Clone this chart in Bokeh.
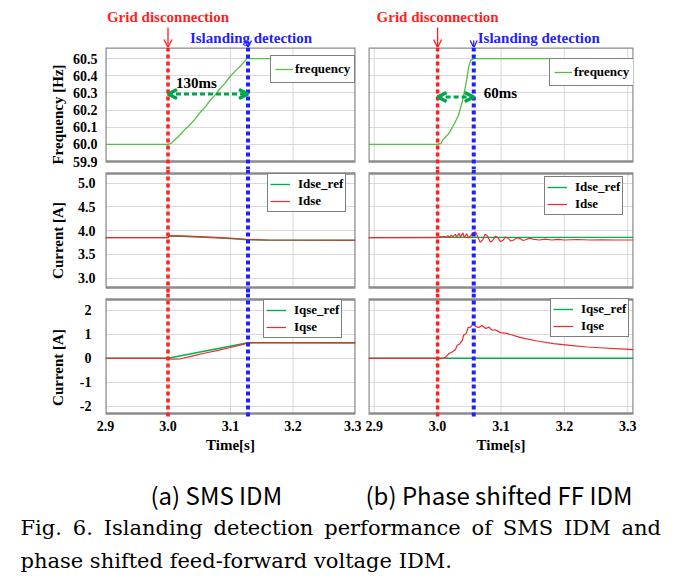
import math
from bokeh.plotting import figure
from bokeh.layouts import column, row
from bokeh.models import (Range1d, FixedTicker, Span, Arrow, OpenHead, Label, Legend,
                          LegendItem, LinearAxis, Grid)
from bokeh.core.properties import value
from bokeh.embed import file_html
from bokeh.resources import INLINE

# ---------------- data ----------------
X_TICKS = [2.9, 3.0, 3.1, 3.2, 3.3]
X_TICK_LABELS = ["2.9", "3.0", "3.1", "3.2", "3.3"]
FREQ_TICKS = [59.9, 60.0, 60.1, 60.2, 60.3, 60.4, 60.5]
FREQ_TICK_LABELS = ["59.9", "60.0", "60.1", "60.2", "60.3", "60.4", "60.5"]
ID_TICKS = [3.0, 3.5, 4.0, 4.5, 5.0]
ID_TICK_LABELS = ["3.0", "3.5", "4.0", "4.5", "5.0"]
IQ_TICKS = [-2, -1, 0, 1, 2]
IQ_TICK_LABELS = ["-2", "-1", "0", "1", "2"]

X_LIM_A = (2.9, 3.3)
X_LIM_B = (2.891, 3.309)
FREQ_LIM = (59.9, 60.565)
ID_LIM = (2.8, 5.2)
IQ_LIM = (-2.3, 2.45)

EVENTS_A = [3.0, 3.128]   # grid disconnection, islanding detection
EVENTS_B = [3.0, 3.057]
DELAY_LABELS = ["130ms", "60ms"]
EVENT_TEXTS = ["Grid disconnection", "Islanding detection"]
Y_TITLES = ["Frequency [Hz]", "Current [A]", "Current [A]"]
X_TITLE = "Time[s]"
METHOD_LABELS = ["(a) SMS IDM", "(b) Phase shifted FF IDM"]
CAPTION_LINES = ["Fig. 6. Islanding detection performance of SMS IDM and",
                 "phase shifted feed-forward voltage IDM."]

# (a) SMS IDM
A_FREQ_T = [2.9, 3.0, 3.004, 3.012, 3.018, 3.028, 3.034, 3.044, 3.050, 3.060, 3.066,
            3.076, 3.082, 3.092, 3.098, 3.108, 3.114, 3.124, 3.127, 3.129, 3.3]
A_FREQ = [60.0, 60.0, 60.004, 60.03, 60.05, 60.09, 60.11, 60.15, 60.18, 60.22, 60.25,
          60.29, 60.32, 60.36, 60.39, 60.43, 60.45, 60.49, 60.505, 60.5, 60.5]
A_IDREF_T = [2.9, 3.0, 3.002, 3.02, 3.06, 3.10, 3.128, 3.15, 3.3]
A_IDREF = [3.85, 3.85, 3.885, 3.88, 3.855, 3.83, 3.805, 3.80, 3.795]
A_ID_T = [2.9, 3.0, 3.003, 3.02, 3.06, 3.10, 3.128, 3.16, 3.3]
A_ID = [3.85, 3.85, 3.89, 3.885, 3.865, 3.84, 3.81, 3.80, 3.795]
A_IQREF_T = [2.9, 3.0, 3.128, 3.3]
A_IQREF = [0.0, 0.0, 0.65, 0.65]
A_IQ_T = [2.9, 3.0, 3.005, 3.02, 3.04, 3.06, 3.08, 3.10, 3.12, 3.128, 3.14, 3.3]
A_IQ = [0.0, 0.0, -0.04, -0.02, 0.10, 0.22, 0.33, 0.45, 0.58, 0.64, 0.65, 0.64]

# (b) Phase shifted FF IDM
B_FREQ_T = [2.891, 3.0, 3.005, 3.009, 3.017, 3.025, 3.033, 3.039, 3.043, 3.046,
            3.049, 3.052, 3.057, 3.309]
B_FREQ = [60.0, 60.0, 60.005, 60.03, 60.06, 60.11, 60.17, 60.25, 60.32, 60.38,
          60.45, 60.49, 60.5, 60.5]
B_IDREF_T = [2.891, 3.0, 3.309]
B_IDREF = [3.85, 3.855, 3.855]
B_ID_T = [2.891, 3.0, 3.004, 3.006, 3.010, 3.012, 3.016, 3.018, 3.022, 3.024, 3.028,
          3.030, 3.034, 3.036, 3.040, 3.042, 3.046, 3.049, 3.053, 3.056, 3.060, 3.064,
          3.067, 3.071, 3.075, 3.079, 3.083, 3.087, 3.091, 3.095, 3.099, 3.103, 3.107,
          3.111, 3.115, 3.120, 3.125, 3.130, 3.135, 3.140, 3.145, 3.150, 3.160, 3.170,
          3.180, 3.190, 3.200, 3.220, 3.240, 3.260, 3.280, 3.309]
B_ID = [3.85, 3.85, 3.87, 3.86, 3.88, 3.86, 3.89, 3.86, 3.90, 3.865, 3.92,
        3.86, 3.94, 3.86, 3.95, 3.85, 3.93, 3.84, 3.90, 3.95, 3.97, 3.85,
        3.75, 3.80, 3.92, 3.88, 3.76, 3.79, 3.88, 3.85, 3.77, 3.79, 3.86,
        3.84, 3.78, 3.80, 3.85, 3.83, 3.79, 3.81, 3.84, 3.82, 3.80, 3.82,
        3.80, 3.815, 3.80, 3.81, 3.80, 3.805, 3.80, 3.80]
B_IQREF_T = [2.891, 3.309]
B_IQREF = [0.0, 0.0]
B_IQ_T = [2.891, 3.0, 3.009, 3.013, 3.018, 3.023, 3.028, 3.031, 3.035, 3.039, 3.041,
          3.045, 3.048, 3.052, 3.056, 3.060, 3.065, 3.070, 3.076, 3.081, 3.086, 3.091,
          3.099, 3.107, 3.115, 3.131, 3.157, 3.183, 3.209, 3.236, 3.262, 3.288, 3.309]
B_IQ = [0.0, 0.0, 0.0, 0.05, 0.20, 0.26, 0.36, 0.54, 0.61, 0.75, 0.96,
        1.03, 1.28, 1.30, 1.44, 1.33, 1.28, 1.37, 1.24, 1.30, 1.17, 1.19,
        1.07, 1.05, 0.99, 0.86, 0.72, 0.61, 0.54, 0.47, 0.43, 0.39, 0.36]

# ---------------- styles ----------------
SERIF = "Liberation Serif"
GREEN_F = "#52c040"
GREEN = "#00b050"
RED = "#f02a2a"
EV_RED = "#ff1f1f"
EV_BLUE = "#1f1fff"
ARROW_GREEN = "#00a550"
BORDER = "#8c8c8c"
GRIDC = "#d9d9d9"

BOX_H = 114
X_AXIS_H = 42
HDR_H = 47
LEFT_W, RIGHT_W = 293, 316
STRIP_W = 68
TOTAL_W, TOTAL_H = 677, 579


def base_fig(width, height, xr, yr, bl, br, bb=0):
    p = figure(width=width, height=height, x_range=xr, y_range=yr,
               x_axis_location=None, y_axis_location=None,
               output_backend="svg", toolbar_location=None,
               min_border=0, min_border_left=bl, min_border_right=br,
               min_border_top=0, min_border_bottom=bb,
               outline_line_color=None, background_fill_color="white")
    p.center = [r for r in p.center if not isinstance(r, Grid)]
    return p


def panel(xr, xlim, ylim, pad_top, pad_bot, yticks, ylabels, left, show_x,
          ystandoff, series, events, legend_pos, legend_glyph, legend_standoff):
    lo, hi = ylim
    k = (hi - lo) / BOX_H
    yr = Range1d(lo - pad_bot * k, hi + pad_top * k)
    frame_h = BOX_H + pad_top + pad_bot
    h = frame_h + (X_AXIS_H if show_x else 0)
    if left:
        p = base_fig(LEFT_W, h, xr, yr, 37, 6, X_AXIS_H if show_x else 0)
    else:
        p = base_fig(RIGHT_W, h, xr, yr, 7, 44, X_AXIS_H if show_x else 0)
    p.add_layout(Grid(dimension=1, ticker=FixedTicker(ticks=yticks),
                      grid_line_color=GRIDC, grid_line_width=1))
    p.segment(x0=X_TICKS, x1=X_TICKS, y0=[lo] * len(X_TICKS), y1=[hi] * len(X_TICKS),
              line_color=GRIDC, line_width=1)
    p.quad(left=[xlim[0]], right=[xlim[1]], bottom=[lo], top=[hi],
           fill_color=None, line_color=BORDER, line_width=2.4)
    if left:
        ax = LinearAxis(ticker=FixedTicker(ticks=yticks),
                        major_label_overrides=dict(zip(yticks, ylabels)),
                        axis_line_color=None, major_tick_line_color=None,
                        minor_tick_line_color=None, major_tick_in=0, major_tick_out=0,
                        minor_tick_in=0, minor_tick_out=0,
                        major_label_standoff=ystandoff,
                        major_label_text_font=SERIF, major_label_text_font_style="bold",
                        major_label_text_font_size="14px", major_label_text_color="black")
        p.add_layout(ax, "left")
    if show_x:
        xa = LinearAxis(ticker=FixedTicker(ticks=X_TICKS),
                        major_label_overrides=dict(zip(X_TICKS, X_TICK_LABELS)),
                        axis_line_color=None, major_tick_line_color=None,
                        minor_tick_line_color=None, major_tick_in=0, major_tick_out=0,
                        minor_tick_in=0, minor_tick_out=0,
                        major_label_standoff=3,
                        major_label_text_font=SERIF, major_label_text_font_style="bold",
                        major_label_text_font_size="14px", major_label_text_color="black",
                        axis_label=X_TITLE, axis_label_standoff=3,
                        axis_label_text_font=SERIF, axis_label_text_font_style="bold",
                        axis_label_text_font_size="15px", axis_label_text_color="black")
        p.add_layout(xa, "below")
    items = []
    for (t, v, name, color, lw) in series:
        r = p.line(t, v, line_color=color, line_width=lw)
        items.append(LegendItem(label=name, renderers=[r]))
    p.add_layout(Span(location=events[0], dimension="height", line_color=EV_RED,
                      line_width=3.5, line_dash="4 3"))
    p.add_layout(Span(location=events[1], dimension="height", line_color=EV_BLUE,
                      line_width=4, line_dash="4 3"))
    n = len(items)
    lh = 18 if n == 1 else 14
    pad = 4 if n == 1 else 2
    leg = Legend(items=items, location=legend_pos, orientation="vertical",
                 label_text_font=SERIF, label_text_font_style="bold",
                 label_text_font_size="13px", label_text_color="black",
                 glyph_width=legend_glyph, glyph_height=lh, label_height=lh,
                 label_standoff=legend_standoff, padding=pad, spacing=1, margin=0,
                 border_line_color="black", border_line_width=1.2,
                 background_fill_color="white", background_fill_alpha=1.0)
    p.add_layout(leg)
    return p


def header(xr, width, bl, br, events, detect_align, detect_offset):
    p = base_fig(width, HDR_H, xr, Range1d(0, HDR_H), bl, br)
    p.add_layout(Label(x=events[0], y=31, text=EVENT_TEXTS[0], text_align="center",
                       text_baseline="middle", text_color=EV_RED, text_font=SERIF,
                       text_font_style="bold", text_font_size="15px"))
    p.add_layout(Label(x=events[1], y=10, x_offset=detect_offset, text=EVENT_TEXTS[1],
                       text_align=detect_align, text_baseline="middle", text_color=EV_BLUE,
                       text_font=SERIF, text_font_style="bold", text_font_size="15px"))
    p.add_layout(Arrow(x_start=events[0], y_start=20, x_end=events[0], y_end=0,
                       line_color=EV_RED, line_width=1.3,
                       end=OpenHead(size=8, line_color=EV_RED, line_width=1.3)))
    p.add_layout(Arrow(x_start=events[1], y_start=7, x_end=events[1], y_end=0,
                       line_color=EV_BLUE, line_width=1.3,
                       end=OpenHead(size=7, line_color=EV_BLUE, line_width=1.3)))
    return p


def build_column(xlim, events, left, f_series, d_series, q_series, delay_text,
                 arrow_y, delay_anchor, delay_dx, delay_dy, leg_pos):
    xr = Range1d(*xlim)
    p1 = panel(xr, xlim, FREQ_LIM, 0, 8, FREQ_TICKS, FREQ_TICK_LABELS, left, False, 8,
               f_series, events, leg_pos[0], 18, 2)
    p1.add_layout(Arrow(x_start=events[0], x_end=events[1], y_start=arrow_y, y_end=arrow_y,
                        line_color=ARROW_GREEN, line_width=3, line_dash="5 3",
                        start=OpenHead(size=9, line_color=ARROW_GREEN, line_width=3.5),
                        end=OpenHead(size=9, line_color=ARROW_GREEN, line_width=3.5)))
    p1.add_layout(Label(x=events[delay_anchor], y=arrow_y, x_offset=delay_dx, y_offset=delay_dy,
                        text=delay_text, text_baseline="bottom", text_align="left",
                        text_font=SERIF, text_font_style="bold", text_font_size="15px",
                        text_color="black"))
    p2 = panel(xr, xlim, ID_LIM, 4, 6, ID_TICKS, ID_TICK_LABELS, left, False, 10,
               d_series, events, leg_pos[1], 20, 8)
    p3 = panel(xr, xlim, IQ_LIM, 6, 4, IQ_TICKS, IQ_TICK_LABELS, left, True, 14,
               q_series, events, leg_pos[2], 20, 8)
    return xr, column(p1, p2, p3)


xr_a, col_a = build_column(
    X_LIM_A, EVENTS_A, True,
    [(A_FREQ_T, A_FREQ, "frequency", GREEN_F, 1.3)],
    [(A_IDREF_T, A_IDREF, "Idse_ref", GREEN, 1.4), (A_ID_T, A_ID, "Idse", RED, 1.2)],
    [(A_IQREF_T, A_IQREF, "Iqse_ref", GREEN, 1.4), (A_IQ_T, A_IQ, "Iqse", RED, 1.2)],
    DELAY_LABELS[0], 60.294, 0, 8, 3,
    [(165, 86), (162, 81), (158, 79)])
xr_b, col_b = build_column(
    X_LIM_B, EVENTS_B, False,
    [(B_FREQ_T, B_FREQ, "frequency", GREEN_F, 1.3)],
    [(B_IDREF_T, B_IDREF, "Idse_ref", GREEN, 1.4), (B_ID_T, B_ID, "Idse", RED, 1.2)],
    [(B_IQREF_T, B_IQREF, "Iqse_ref", GREEN, 1.4), (B_IQ_T, B_IQ, "Iqse", RED, 1.2)],
    DELAY_LABELS[1], 60.276, 1, 10, -4,
    [(181, 83), (176, 78), (182, 80)])

hdr_a = header(xr_a, STRIP_W + LEFT_W, STRIP_W + 37, 6, EVENTS_A, "center", 3)
hdr_b = header(xr_b, RIGHT_W, 7, 44, EVENTS_B, "left", 4)

# strip with the rotated y-axis titles (coordinates in layout pixels, y measured up from 459)
strip_h = 122 + 124 + 124 + X_AXIS_H
strip_bottom = HDR_H + strip_h
strip = base_fig(STRIP_W, strip_h, Range1d(0, STRIP_W), Range1d(0, strip_h), 0, 0)
strip.text(x=[57.5, 57.5, 57.5], y=[strip_bottom - 114, strip_bottom - 240, strip_bottom - 367],
           text=Y_TITLES, angle=math.pi / 2,
           text_align="center", text_baseline="middle", text_font=value(SERIF),
           text_font_style="bold", text_font_size="15px", text_color="black")

cap_h = TOTAL_H - HDR_H - strip_h
cap = base_fig(TOTAL_W, cap_h, Range1d(0, TOTAL_W), Range1d(0, cap_h), 0, 0)
cap.text(x=[150, 365], y=[TOTAL_H - 494, TOTAL_H - 494], text=METHOD_LABELS,
         text_align="left", text_baseline="middle", text_font=value("Noto Sans CJK KR"),
         text_font_size="24px", text_color="black")
justified = CAPTION_LINES[0].replace(" ", " \u2009")
cap.text(x=[20, 20], y=[TOTAL_H - 527, TOTAL_H - 560], text=[justified, CAPTION_LINES[1]],
         text_align="left", text_baseline="middle", text_font=value("DejaVu Serif"),
         text_font_size="21px", text_color="black")

layout = column(row(hdr_a, hdr_b),
                row(strip, col_a, col_b),
                cap)

open("out.html", "w").write(file_html(layout, INLINE))
